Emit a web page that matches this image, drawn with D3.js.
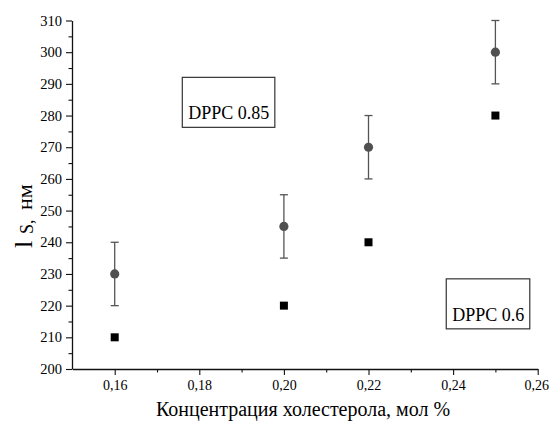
<!DOCTYPE html>
<html><head><meta charset="utf-8">
<script src="https://cdn.jsdelivr.net/npm/d3@7"></script>
<style>body{margin:0;background:#fff}svg text{font-family:"Liberation Serif","Times New Roman",serif !important}</style>
</head><body>
<svg id="c" width="549" height="421"></svg>
<script>
const conc = [0.16, 0.20, 0.22, 0.25];
const dppc085 = [230, 245, 270, 300];
const dppc085Err = [10, 10, 10, 10];
const dppc06 = [210, 220, 240, 280];
const xTicks = [0.16, 0.18, 0.20, 0.22, 0.24, 0.26];
const yTicks = [200, 210, 220, 230, 240, 250, 260, 270, 280, 290, 300, 310];
const labels = [{text: "DPPC 0.85", x: 0.1774, y: 278.8}, {text: "DPPC 0.6", x: 0.2398, y: 215.2}];

const svg = d3.select("#c");
const x = d3.scaleLinear().domain([0.15, 0.26]).range([72.4, 537.7]);
const y = d3.scaleLinear().domain([200, 310]).range([369, 20.5]);
const fmt = d => d3.format(".2f")(d).replace(".", ",");

const xMinor = d3.range(0.17, 0.26, 0.02);
const yMinor = d3.range(205, 310, 10);
const xa = svg.append("g").attr("transform", "translate(0,369)")
  .call(d3.axisBottom(x).tickValues(xTicks).tickFormat(fmt).tickSize(6).tickSizeOuter(0));
svg.append("g").attr("transform", "translate(0,369)")
  .call(d3.axisBottom(x).tickValues(xMinor).tickFormat("").tickSize(3.5).tickSizeOuter(0))
  .select(".domain").remove();
const ya = svg.append("g").attr("transform", "translate(72,0)")
  .call(d3.axisLeft(y).tickValues(yTicks).tickSize(6).tickSizeOuter(0));
svg.append("g").attr("transform", "translate(72,0)")
  .call(d3.axisLeft(y).tickValues(yMinor).tickFormat("").tickSize(3.5).tickSizeOuter(0))
  .select(".domain").remove();
svg.selectAll(".domain").attr("stroke", "#111").attr("stroke-width", 1.3);
svg.selectAll(".tick line").attr("stroke", "#111").attr("stroke-width", 1.1);
xa.selectAll(".tick text").attr("font-size", 14).attr("fill", "#000").attr("y", 11)
  .attr("dx", d => d === 0.26 ? -1.5 : 0);
ya.selectAll(".tick text").attr("font-size", 14.5).attr("fill", "#000").attr("x", -10);

const eb = svg.append("g").attr("stroke", "#555").attr("stroke-width", 1.3);
conc.forEach((c, i) => {
  const lo = dppc085[i] - dppc085Err[i], hi = dppc085[i] + dppc085Err[i];
  eb.append("line").attr("x1", x(c)).attr("x2", x(c)).attr("y1", y(lo)).attr("y2", y(hi));
  eb.append("line").attr("x1", x(c) - 4).attr("x2", x(c) + 4).attr("y1", y(lo)).attr("y2", y(lo));
  eb.append("line").attr("x1", x(c) - 4).attr("x2", x(c) + 4).attr("y1", y(hi)).attr("y2", y(hi));
});
svg.append("g").selectAll("circle").data(conc).join("circle")
  .attr("cx", d => x(d)).attr("cy", (d, i) => y(dppc085[i])).attr("r", 4.6).attr("fill", "#505050");
svg.append("g").selectAll("rect").data(conc).join("rect")
  .attr("x", d => x(d) - 4).attr("y", (d, i) => y(dppc06[i]) - 4).attr("width", 8).attr("height", 8).attr("fill", "#000");

labels.forEach(l => {
  const g = svg.append("g");
  const r = g.append("rect");
  const tx = x(l.x), ty = y(l.y);
  const t = g.append("text").attr("x", tx).attr("y", ty).attr("font-size", 18).attr("fill", "#000").text(l.text);
  const bb = t.node().getBBox();
  r.attr("x", tx - 6).attr("y", ty - 42).attr("width", bb.width + 11.5).attr("height", 50)
    .attr("fill", "#fff").attr("stroke", "#333").attr("stroke-width", 1.2);
});

svg.append("text").attr("x", 303).attr("y", 416).attr("text-anchor", "middle").attr("font-size", 20).attr("fill", "#000")
  .text("Концентрация холестерола, мол %");
const yl = svg.append("g").attr("transform", "translate(32,0) rotate(-90)");
yl.append("text").attr("x", -248).attr("y", 0).attr("font-size", 26).attr("fill", "#000").text("l");
yl.append("text").attr("x", -234).attr("y", 1).attr("font-size", 18).attr("fill", "#000").text("S,");
yl.append("text").attr("x", -210).attr("y", 0).attr("font-size", 22).attr("fill", "#000").text("нм");
</script>
</body></html>
